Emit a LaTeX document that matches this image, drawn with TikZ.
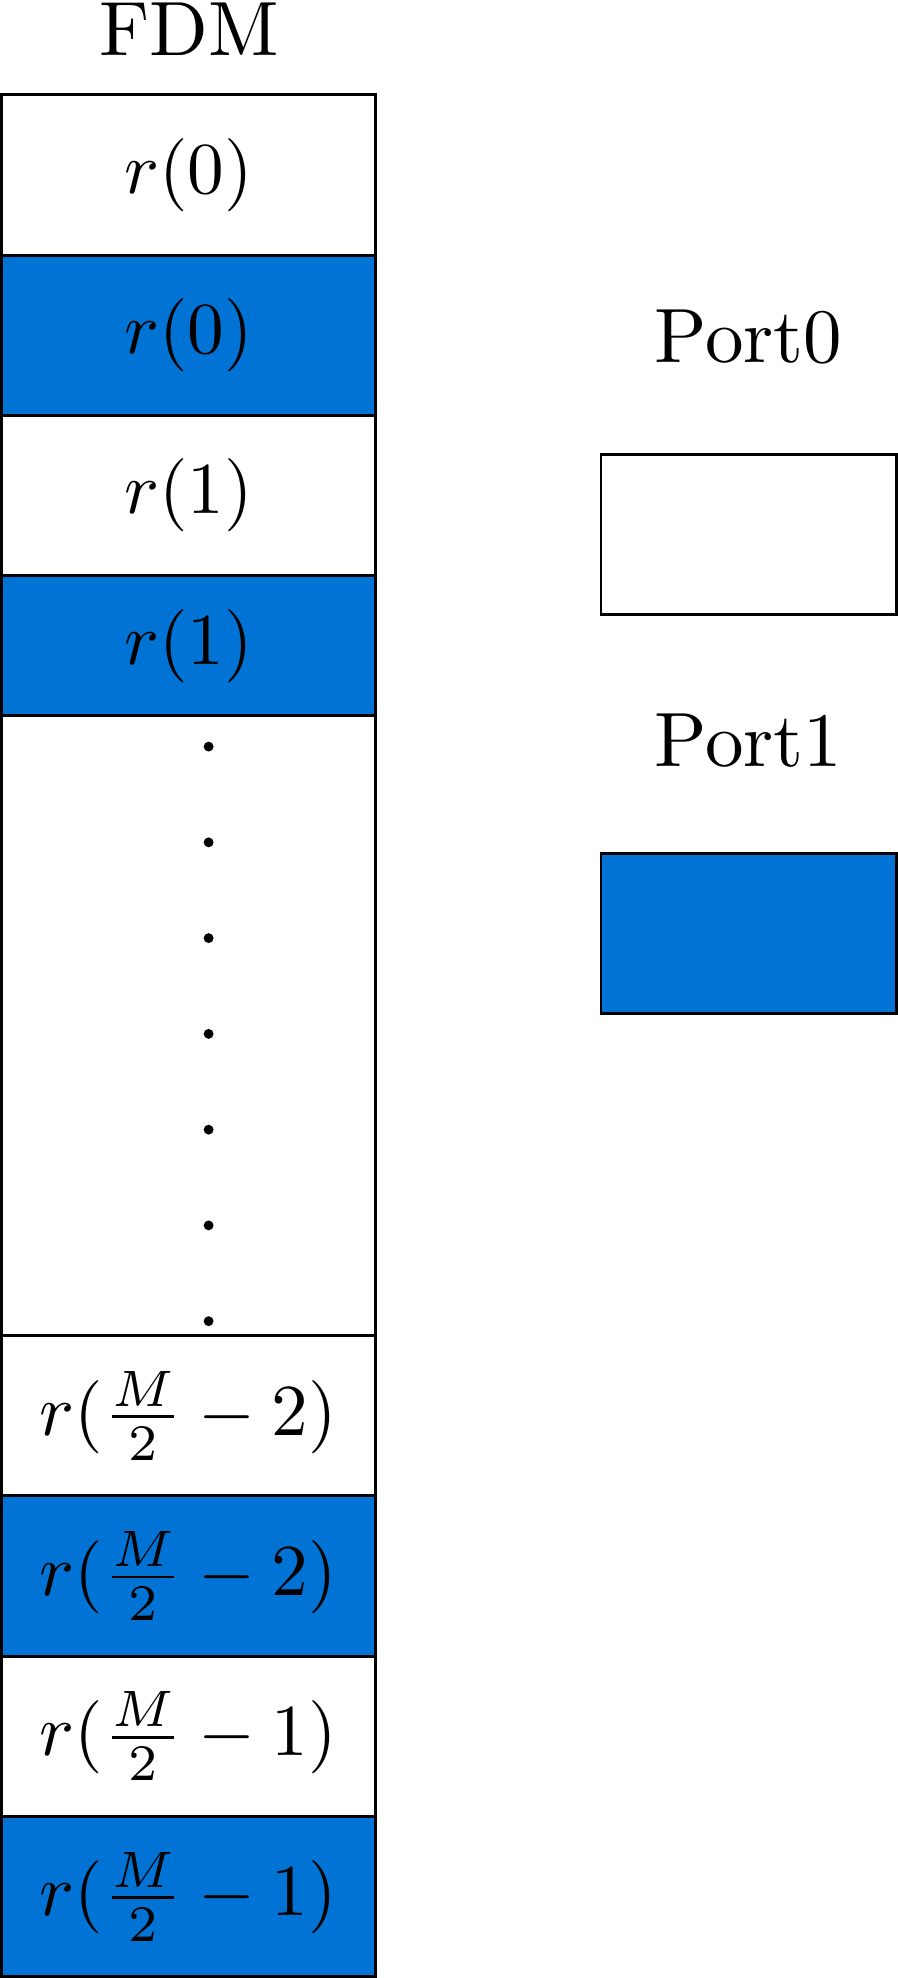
\documentclass[tikz,border=0pt]{standalone}
\usepackage{graphicx}
\usetikzlibrary{positioning}
\definecolor{portblue}{RGB}{0,115,212}
\newcommand{\celltext}[1]{\scalebox{1.56}{$#1$}}
\newcommand{\headtext}[1]{\scalebox{1.64}{#1}}
\begin{document}
\begin{tikzpicture}[cell/.style={draw, fill=white, minimum width=2.8cm, minimum height=1.2cm, inner sep=0pt, outer sep=0pt}, bluecell/.style={cell, fill=portblue}, node distance=0pt, semithick]
   \useasboundingbox (0,0) rectangle (6.722,-14.81);
   \node     (fdm)   [anchor=base]            at (1.415,-0.412) {\headtext{FDM}};
   \node     (r0w)   [cell, anchor=north west] at (0.011,-0.71) {\celltext{r(0)}};
   \node     (r0b)   [bluecell, below=of r0w]  {\celltext{r(0)}};
   \node     (r1w)   [cell, below=of r0b]      {\celltext{r(1)}};
   \node     (r1b)   [bluecell, minimum height=1.05cm, below=of r1w] {\celltext{r(1)}};
   \node     (gap)   [cell, minimum height=4.64cm, below=of r1b] {};
   \node     (m2w)   [cell, below=of gap]      {\celltext{r(\frac{M}{2}-2)}};
   \node     (m2b)   [bluecell, below=of m2w]  {\celltext{r(\frac{M}{2}-2)}};
   \node     (m1w)   [cell, below=of m2b]      {\celltext{r(\frac{M}{2}-1)}};
   \node     (m1b)   [bluecell, below=of m1w]  {\celltext{r(\frac{M}{2}-1)}};
   \foreach \k in {0,...,6}
      \fill (1.562,-5.59-0.717*\k) circle (0.037);
   \node     (p0lbl) [anchor=base]            at (5.605,-2.717) {\headtext{Port0}};
   \node     (p0)    [cell, minimum width=2.21cm] at (5.605,-4.0) {};
   \node     (p1lbl) [anchor=base]            at (5.605,-5.741) {\headtext{Port1}};
   \node     (p1)    [bluecell, minimum width=2.21cm] at (5.605,-6.99) {};
\end{tikzpicture}
\end{document}
